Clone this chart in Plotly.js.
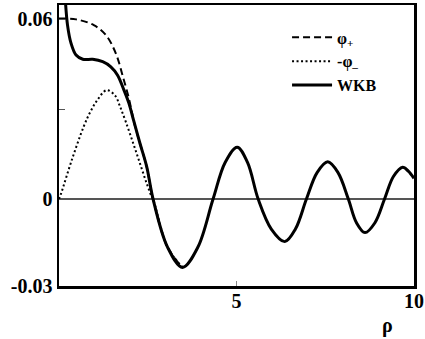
<!DOCTYPE html>
<html>
<head>
<meta charset="utf-8">
<script src="https://cdn.plot.ly/plotly-3.0.1.min.js"></script>
<style>html,body{margin:0;padding:0;background:#fff;}#chart{width:425px;height:339px;}</style>
</head>
<body>
<div id="chart"></div>
<script>
// phi+ (dashed)
const phiPlusX = [0, 0.48, 0.98, 1.32, 1.60, 1.80, 1.97, 2.05, 2.11, 2.19, 2.28, 2.47, 2.65, 3.06, 3.48];
const phiPlusY = [0.0602, 0.0599, 0.0580, 0.0547, 0.0486, 0.0408, 0.0335, 0.0291, 0.0258, 0.0222, 0.0186, 0.0108, 0, -0.0161, -0.0228];
// -phi- (dotted)
const phiMinusX = [0, 0.06, 0.36, 0.70, 0.88, 1.08, 1.34, 1.58, 1.72, 1.88, 2.09, 2.28, 2.47, 2.61, 2.65, 3.06, 3.48];
const phiMinusY = [0, 0.0019, 0.0130, 0.0243, 0.0290, 0.0330, 0.0363, 0.0345, 0.0308, 0.0258, 0.0186, 0.0119, 0.0052, 0.0008, 0, -0.0161, -0.0228];
// WKB (solid)
const wkbX = [0.17, 0.24, 0.34, 0.48, 0.67, 0.95, 1.23, 1.46, 1.65, 1.83, 1.97, 2.10, 2.28, 2.47, 2.65, 3.06, 3.48, 3.91, 4.34, 4.68, 5.02, 5.31, 5.61, 5.98, 6.36, 6.66, 6.97, 7.27, 7.57, 7.86, 8.15, 8.38, 8.62, 8.90, 9.17, 9.42, 9.68, 9.84, 10];
const wkbY = [0.068, 0.0580, 0.0519, 0.0480, 0.0466, 0.0466, 0.0458, 0.0441, 0.0413, 0.0363, 0.0319, 0.0263, 0.0186, 0.0108, 0, -0.0161, -0.0228, -0.0161, 0, 0.0122, 0.0173, 0.0122, 0, -0.0100, -0.0142, -0.0100, 0, 0.0088, 0.0124, 0.0088, 0, -0.0079, -0.0112, -0.0079, 0, 0.0075, 0.0106, 0.0093, 0.0069];

const yTickVals = [-0.029, 0, 0.06];
const yTickText = ["-0.03", "0", "0.06"];
const yMinorTickVals = [0.03];
const xTickVals = [5, 10];
const xTickText = ["5", "10"];

const fontFam = '"Liberation Serif", "Times New Roman", serif';

const traces = [
  {x: phiPlusX, y: phiPlusY, mode: 'lines', name: 'φ<sub>+</sub>',
   line: {color: '#000', width: 2, dash: '7px,4px', shape: 'spline', smoothing: 1}},
  {x: phiMinusX, y: phiMinusY, mode: 'lines', name: '-φ<sub>–</sub>',
   line: {color: '#000', width: 2, dash: '2px,2.5px', shape: 'spline', smoothing: 1}},
  {x: wkbX, y: wkbY, mode: 'lines', name: 'WKB',
   line: {color: '#000', width: 3, shape: 'spline', smoothing: 1}}
];

const layout = {
  width: 425, height: 339,
  margin: {l: 59, r: 11, t: 5, b: 53},
  paper_bgcolor: '#fff', plot_bgcolor: '#fff',
  font: {family: fontFam, size: 16, color: '#000', weight: 'bold'},
  showlegend: true,
  legend: {x: 0.91, xanchor: 'right', y: 0.945, yanchor: 'top',
           bgcolor: 'rgba(0,0,0,0)', font: {family: fontFam, size: 16, weight: 'bold'},
           tracegroupgap: 0, itemwidth: 40},
  xaxis: {range: [0, 10], tickvals: xTickVals, ticktext: xTickText,
          ticks: 'inside', ticklen: 5, tickcolor: '#888', tickwidth: 1,
          showgrid: false, zeroline: false, showline: true, linecolor: '#000', linewidth: 2.5,
          mirror: true, tickfont: {family: fontFam, size: 20, weight: 'bold'}, ticklabelstandoff: -5},
  yaxis: {range: [-0.029, 0.0647], tickvals: yTickVals, ticktext: yTickText,
          ticks: 'inside', ticklen: 6, tickcolor: '#555', tickwidth: 1,
          minor: {tickvals: yMinorTickVals, ticks: 'inside', ticklen: 6, tickcolor: '#555', tickwidth: 1},
          showgrid: false, zeroline: true, zerolinecolor: '#555', zerolinewidth: 1.5,
          showline: true, linecolor: '#000', linewidth: 2.5, mirror: true,
          tickfont: {family: fontFam, size: 20, weight: 'bold'}},
  annotations: [
    {text: 'ρ', xref: 'paper', yref: 'paper', x: 0.924, y: -0.14, showarrow: false,
     xanchor: 'center', yanchor: 'middle', font: {family: fontFam, size: 20, weight: 'bold'}}
  ]
};

Plotly.newPlot('chart', traces, layout, {displayModeBar: false, staticPlot: true});
</script>
</body>
</html>
